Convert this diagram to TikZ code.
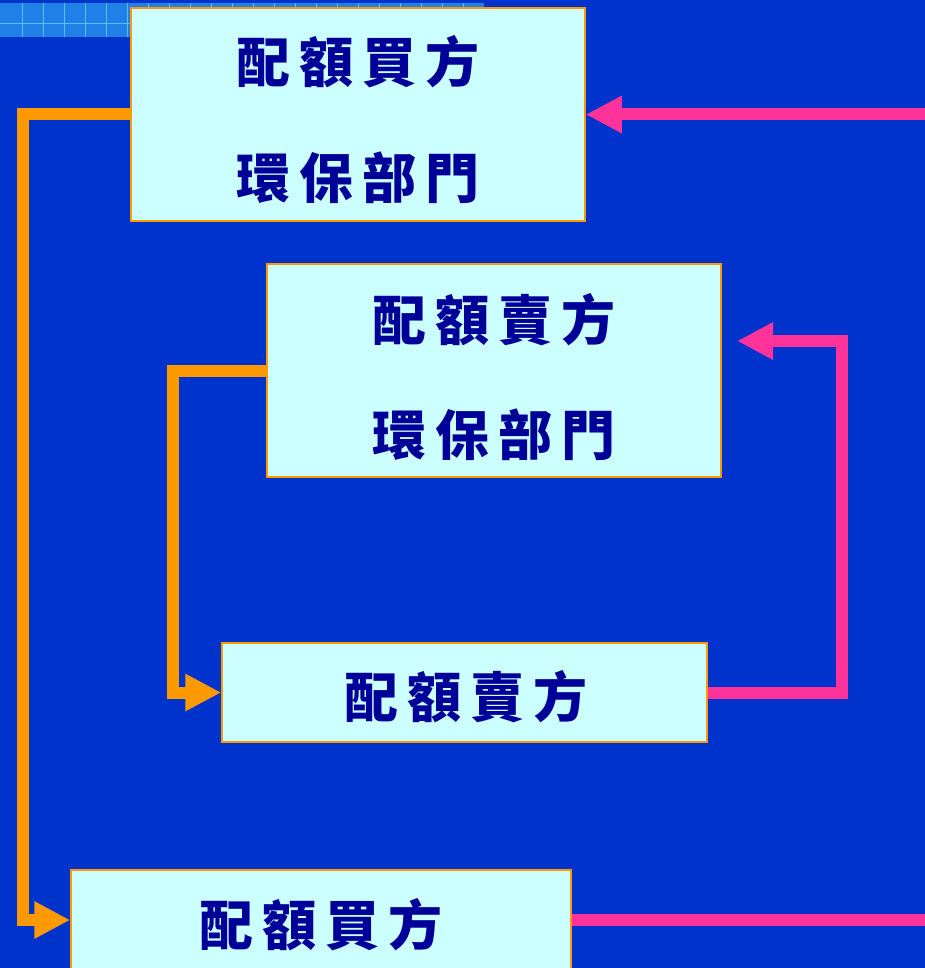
\documentclass[tikz,border=0pt]{standalone}
\usepackage{fontspec}
\newfontfamily\cjk{Noto Sans CJK TC}
\usetikzlibrary{arrows.meta}

\definecolor{bgblue}{HTML}{0033CC}
\definecolor{stripblue}{HTML}{2080E8}
\definecolor{stripline}{HTML}{5CBFFF}
\definecolor{boxfill}{HTML}{CCFFFF}
\definecolor{linkorange}{HTML}{FF9900}
\definecolor{linkpink}{HTML}{FF3399}
\definecolor{textnavy}{HTML}{000099}

\newcommand\cgap{\kern9pt}

\tikzset{
  quotabox/.style={draw=linkorange, line width=1.5pt, fill=boxfill, inner sep=0pt},
  quotatext/.style={font=\cjk\bfseries\fontsize{54}{54}\selectfont, text=textnavy, inner sep=0pt},
  orangelink/.style={draw=linkorange, line width=12pt, -{Triangle[length=36pt,width=35pt]}},
  pinklink/.style={draw=linkpink, line width=12pt, -{Triangle[length=36pt,width=35pt]}},
  pinkline/.style={draw=linkpink, line width=12pt}
}

\begin{document}
\begin{tikzpicture}[x=1pt,y=-1pt]
\useasboundingbox (0,0) rectangle (925,968);
\fill[bgblue] (0,0) rectangle (925,968);

% strip at the top
\fill[stripblue] (0,3) rectangle (484,37);
\foreach \x in {22,43,...,480}
  \draw[stripline, line width=0.6pt] (\x,3) -- (\x,37);
\draw[stripline, line width=0.6pt] (0,23) -- (484,23);

% boxes
\node[quotabox, minimum width=454, minimum height=213] (buyerenv) at (358,114.5) {};
\node[quotatext] (buyerenvA) at (358,62) {配\cgap 額\cgap 買\cgap 方};
\node[quotatext] (buyerenvB) at (358,178) {環\cgap 保\cgap 部\cgap 門};

\node[quotabox, minimum width=454, minimum height=213] (sellerenv) at (494,370.5) {};
\node[quotatext] (sellerenvA) at (494,320) {配\cgap 額\cgap 賣\cgap 方};
\node[quotatext] (sellerenvB) at (494,435) {環\cgap 保\cgap 部\cgap 門};

\node[quotabox, minimum width=485, minimum height=99] (seller) at (464.5,692.5) {};
\node[quotatext] (sellerA) at (466,697) {配\cgap 額\cgap 賣\cgap 方};

\node[quotabox, minimum width=500, minimum height=100] (buyer) at (321,920) {};
\node[quotatext] (buyerA) at (321,925) {配\cgap 額\cgap 買\cgap 方};

% free ends
\coordinate (rightA) at (925,114.5);
\coordinate (rightB) at (925,920);
\coordinate (turn) at (842,341);
\coordinate (selltip) at (737,341);

% links
\draw[orangelink] (buyerenv.west) -- ++(-107,0) |- (buyer.west);
\draw[orangelink] (sellerenv.west) -- ++(-93,0) |- (seller.west);
\draw[pinklink] (rightA) -- (buyerenv.east);
\draw[pinklink] (seller.east) -| (turn) -- (selltip);
\draw[pinkline] (buyer.east) -- (rightB);
\end{tikzpicture}
\end{document}
